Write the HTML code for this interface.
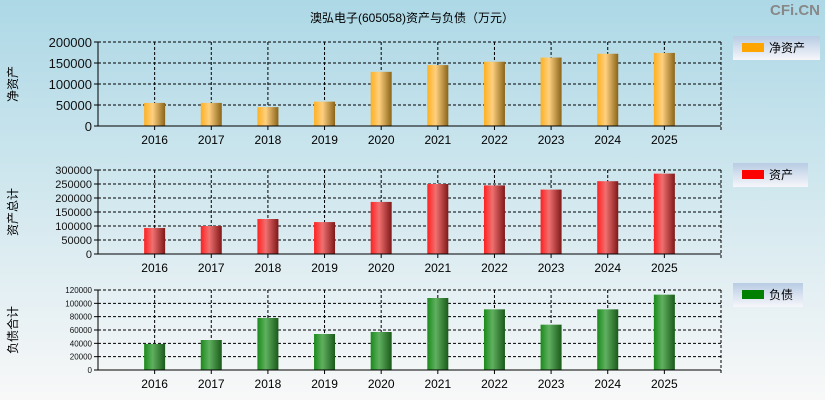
<!DOCTYPE html>
<html><head><meta charset="utf-8"><style>
body{margin:0;width:825px;height:400px;overflow:hidden;font-family:"Liberation Sans","Noto Sans CJK SC",sans-serif;}
svg{display:block}
</style></head><body>
<svg id="c" width="825" height="400" xmlns="http://www.w3.org/2000/svg">
<defs>
<linearGradient id="bg" x1="0" y1="0" x2="0" y2="1"><stop offset="0" stop-color="#add8e6"/><stop offset="1" stop-color="#f8f8f8"/></linearGradient>
<linearGradient id="lg" x1="0" y1="0" x2="0" y2="1"><stop offset="0" stop-color="#b8cce4"/><stop offset="1" stop-color="#f6f6fa"/></linearGradient>
<linearGradient id="g0" x1="0" x2="1"><stop offset="0" stop-color="#ffb020"/><stop offset="0.4" stop-color="#ffd080"/><stop offset="1" stop-color="#8a6418"/></linearGradient>
<linearGradient id="g1" x1="0" x2="1"><stop offset="0" stop-color="#ff2020"/><stop offset="0.4" stop-color="#f07070"/><stop offset="1" stop-color="#801818"/></linearGradient>
<linearGradient id="g2" x1="0" x2="1"><stop offset="0" stop-color="#1a8a1a"/><stop offset="0.4" stop-color="#60b060"/><stop offset="1" stop-color="#1a5a1a"/></linearGradient>
</defs>
<rect width="825" height="400" fill="url(#bg)"/>
<text x="412" y="22" font-size="12" text-anchor="middle">澳弘电子(605058)资产与负债（万元）</text>
<text x="820" y="15" font-size="15" font-weight="bold" fill="#888" text-anchor="end">CFi.CN</text>
</svg>
<script>
const years=["2016","2017","2018","2019","2020","2021","2022","2023","2024","2025"];
const netAssets=[55000,55000,45000,58000,129000,145000,153000,163000,172000,174000];
const totalAssets=[93000,100000,125000,114000,186000,250000,245000,230000,260000,287000];
const liabilities=[39000,45000,78000,54000,57000,108000,91000,68000,91000,113000];
const ticks0=[0,50000,100000,150000,200000];
const ticks1=[0,50000,100000,150000,200000,250000,300000];
const ticks2=[0,20000,40000,60000,80000,100000,120000];
const svg=document.getElementById('c');
const NS='http://www.w3.org/2000/svg';
function mk(t,a,p){const e=document.createElementNS(NS,t);for(const k in a)e.setAttribute(k,a[k]);(p||svg).appendChild(e);return e;}
const X0=98,X1=721,slot=(X1-X0)/11;
function xs(i){return X0+slot*(i+1);}
const panels=[
 {vals:netAssets,ticks:ticks0,top:42,bot:126,grad:'g0',title:'净资产',legend:'净资产',color:'#ffa500',ly:36,lw:87,fs:13,name:'net-assets'},
 {vals:totalAssets,ticks:ticks1,top:170,bot:254,grad:'g1',title:'资产总计',legend:'资产',color:'#ff0000',ly:163,lw:75,fs:11,name:'total-assets'},
 {vals:liabilities,ticks:ticks2,top:290,bot:370,grad:'g2',title:'负债合计',legend:'负债',color:'#008000',ly:283,lw:70,fs:8,name:'liabilities'}
];
panels.forEach(p=>{
 const g=mk('g',{});
 
 
 const max=p.ticks[p.ticks.length-1];
 const ys=v=>p.bot-(v/max)*(p.bot-p.top);
 p.ticks.forEach(t=>{
  const y=ys(t);
  if(t>0){const l=mk('line',{x1:X0,x2:X1,y1:y,y2:y,stroke:'#000','stroke-dasharray':'3,2'},g);
   }
  mk('line',{x1:X0-4,x2:X0,y1:y,y2:y,stroke:'#000'},g);
  const tx=mk('text',{x:X0-6,y:y+p.fs*0.38,'font-size':p.fs,'text-anchor':'end',fill:'#111'},g);
  tx.textContent=t;
  
  
 });
 years.forEach((yr,i)=>{
  const x=xs(i);
  mk('line',{x1:x,x2:x,y1:p.top,y2:p.bot,stroke:'#000','stroke-dasharray':'3,2'},g);
  mk('line',{x1:x,x2:x,y1:p.bot,y2:p.bot+4,stroke:'#000'},g);
  const b=mk('rect',{x:x-10.5,y:ys(p.vals[i]),width:21,height:p.bot-ys(p.vals[i]),fill:'url(#'+p.grad+')'},g);
  
  
  const t=mk('text',{x:x,y:p.bot+18,'font-size':12,'text-anchor':'middle'},g);
  t.textContent=yr;
  
  
 });
 mk('line',{x1:X0,x2:X1,y1:p.top,y2:p.top,stroke:'#000','stroke-dasharray':'3,2'},g);
 mk('line',{x1:X1,x2:X1,y1:p.top,y2:p.bot+4,stroke:'#000','stroke-dasharray':'3,2'},g);
 mk('line',{x1:X0,x2:X0,y1:p.top,y2:p.bot,stroke:'#000'},g);
 mk('line',{x1:X0,x2:X1,y1:p.bot,y2:p.bot,stroke:'#000'},g);
 const cy=(p.top+p.bot)/2;
 const at=mk('text',{x:0,y:0,'font-size':12,'text-anchor':'middle',transform:'translate(17,'+cy+') rotate(-90)'},g);
 at.textContent=p.title;
 
 
 const lg=mk('g',{},g);
 
 
 mk('rect',{x:733,y:p.ly,width:p.lw,height:24,fill:'url(#lg)'},lg);
 mk('rect',{x:742,y:p.ly+7,width:22,height:9,fill:p.color},lg);
 const lt=mk('text',{x:769,y:p.ly+16,'font-size':12},lg);
 lt.textContent=p.legend;
});
</script>
</body></html>
